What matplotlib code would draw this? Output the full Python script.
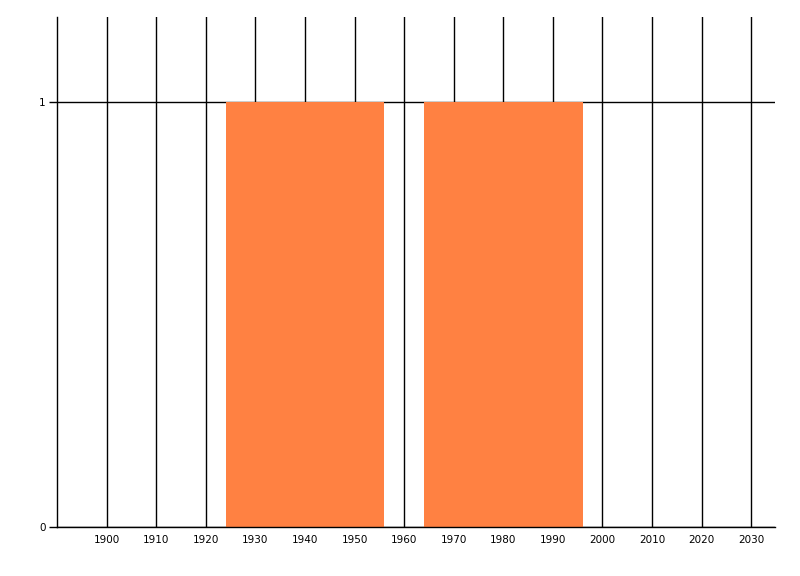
import matplotlib
matplotlib.use("Agg")
import matplotlib.pyplot as plt

years = [1940, 1980]
values = [1, 1]
bar_width = 32
x_ticks = list(range(1900, 2031, 10))
y_ticks = [0, 1]

fig = plt.figure(figsize=(8, 5.76), dpi=100)
ax = fig.add_axes([57/800, 1-527/576, (775-57)/800, (527-17)/576])
ax.bar(years, values, width=bar_width, color='#FF8142', zorder=2)
ax.set_xlim(1890, 2034.8)
ax.set_ylim(0, 1.2)
ax.set_xticks(x_ticks)
ax.set_xticklabels([str(t) for t in x_ticks])
ax.set_yticks(y_ticks)
ax.set_yticklabels([str(t) for t in y_ticks])
ax.grid(True, color='black', linewidth=1, zorder=1)
ax.set_axisbelow(True)
for s in ['top', 'right']:
    ax.spines[s].set_visible(False)
for s in ['left', 'bottom']:
    ax.spines[s].set_linewidth(1)
    ax.spines[s].set_color('black')
ax.tick_params(axis='x', length=0, pad=6, labelsize=7.5, colors='black')
ax.tick_params(axis='y', length=6, width=1, pad=2, labelsize=7.5, colors='black')
fig.savefig('out.png', dpi=100)
